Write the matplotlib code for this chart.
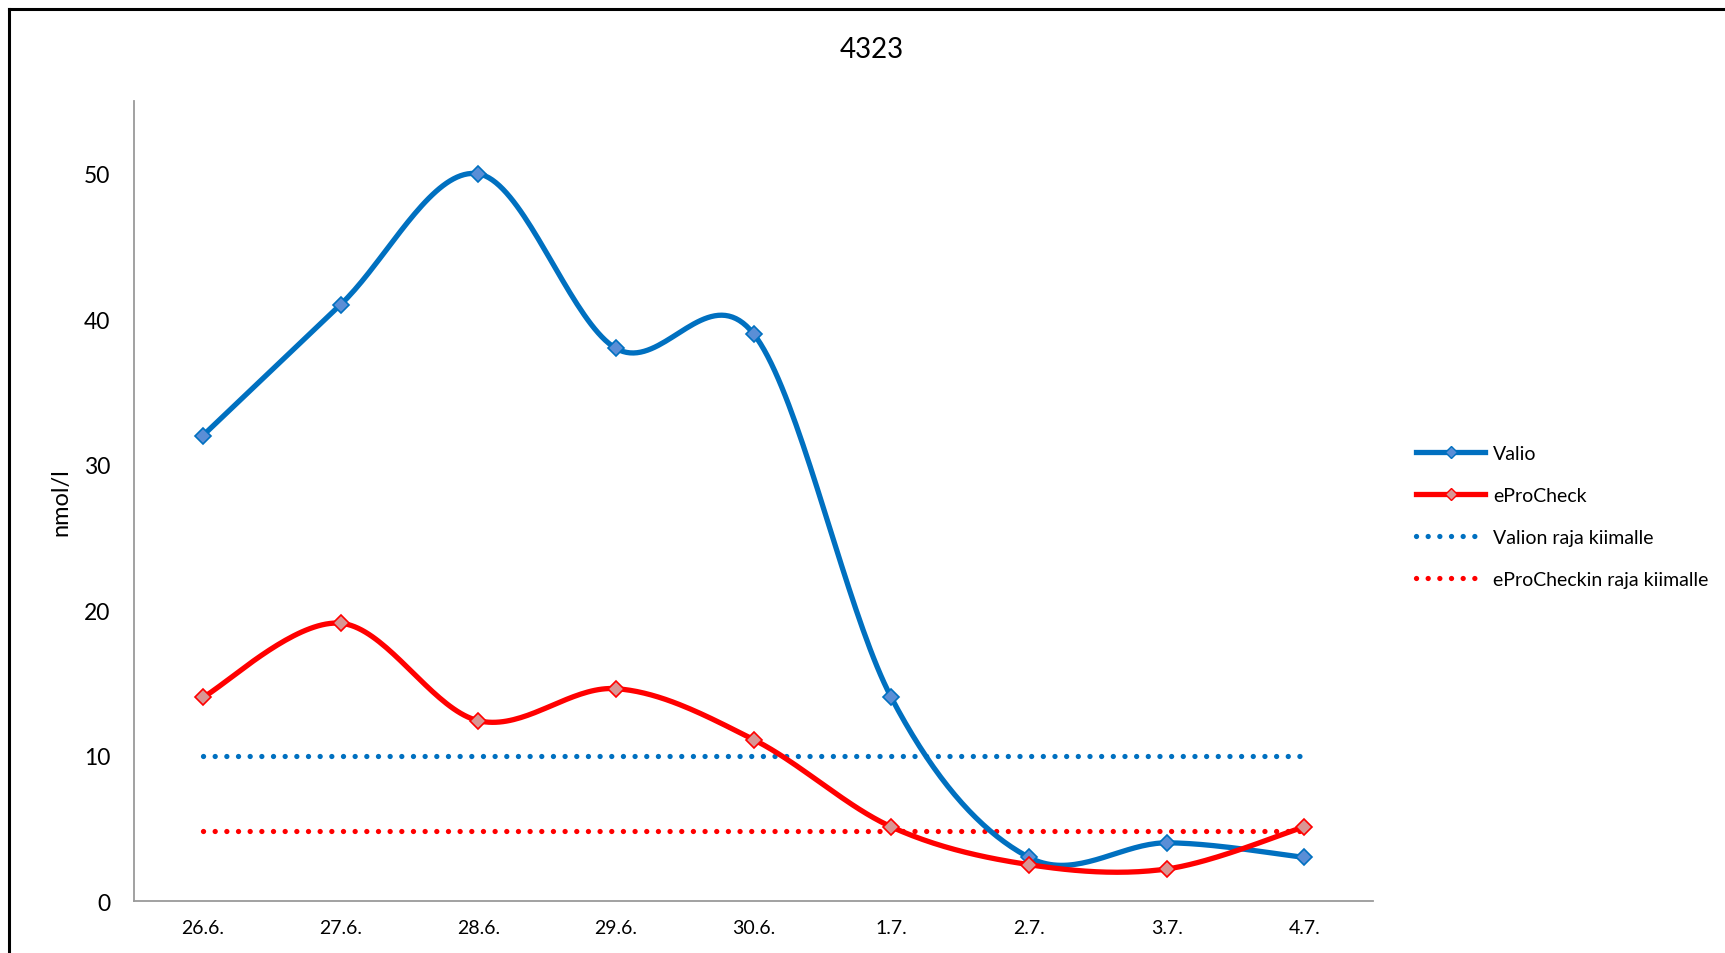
import numpy as np
import matplotlib.pyplot as plt
from matplotlib.lines import Line2D

plt.rcParams['font.family'] = ['Lato', 'DejaVu Sans']

title = '4323'
days = ['26.6.', '27.6.', '28.6.', '29.6.', '30.6.', '1.7.', '2.7.', '3.7.', '4.7.']
valio = [32, 41, 50, 38, 39, 14, 3, 4, 3]
eprocheck = [14, 19.1, 12.4, 14.6, 11.1, 5.1, 2.5, 2.2, 5.1]
valio_limit = 10
eprocheck_limit = 4.8

blue = '#0070C0'
red = '#FF0000'


def smooth(y, steps=40):
    # bezier spline through the points, like a smoothed office chart line
    x = np.arange(len(y), dtype=float)
    y = np.asarray(y, dtype=float)
    pts = np.column_stack([x, y])
    out = []
    for i in range(len(pts) - 1):
        p0 = pts[i - 1] if i > 0 else pts[i]
        p1 = pts[i]
        p2 = pts[i + 1]
        p3 = pts[i + 2] if i + 2 < len(pts) else pts[i + 1]
        c1 = p1 + (p2 - p0) / 6
        c2 = p2 - (p3 - p1) / 6
        t = np.linspace(0, 1, steps)[:, None]
        seg = (1 - t)**3 * p1 + 3 * (1 - t)**2 * t * c1 + 3 * (1 - t) * t**2 * c2 + t**3 * p2
        out.append(seg if i == 0 else seg[1:])
    out = np.vstack(out)
    return out[:, 0], out[:, 1]


fig = plt.figure(figsize=(17.25, 9.54), dpi=100)
ax = fig.add_axes([0.0777, 0.0545, 0.7183, 0.8385])

xs = np.arange(len(days))
lw = 3.8

sx, sy = smooth(valio)
ax.plot(sx, sy, color=blue, lw=lw, solid_capstyle='round', zorder=3)
ax.plot(xs, valio, ls='none', marker='D', ms=8, mfc='#5A8ED6', mec=blue, mew=1.2, zorder=4)

sx, sy = smooth(eprocheck)
ax.plot(sx, sy, color=red, lw=lw, solid_capstyle='round', zorder=3)
ax.plot(xs, eprocheck, ls='none', marker='D', ms=8, mfc='#D99694', mec=red, mew=1.2, zorder=4)

dots = (0, (0.01, 2.2))
ax.plot(xs, [valio_limit] * len(xs), color=blue, lw=lw, ls=dots, dash_capstyle='round', zorder=2)
ax.plot(xs, [eprocheck_limit] * len(xs), color=red, lw=lw, ls=dots, dash_capstyle='round', zorder=2)

ax.set_xlim(-0.5, len(days) - 0.5)
ax.set_ylim(0, 55)
ax.set_xticks(xs)
ax.set_xticklabels(days)
ax.set_yticks([0, 10, 20, 30, 40, 50])
ax.tick_params(axis='x', length=0, pad=13, labelsize=14)
ax.tick_params(axis='y', length=0, pad=17, labelsize=16.5)
ax.set_ylabel('nmol/l', fontsize=17, labelpad=9)

for s in ['top', 'right']:
    ax.spines[s].set_visible(False)
for s in ['left', 'bottom']:
    ax.spines[s].set_color('#9A9A9A')
    ax.spines[s].set_linewidth(1.3)

fig.text(872 / 1725, 1 - 50 / 954, title, fontsize=20, ha='center', va='center')

handles = [
    Line2D([], [], color=blue, lw=lw, marker='D', ms=6, mfc='#5A8ED6', mec=blue),
    Line2D([], [], color=red, lw=lw, marker='D', ms=6, mfc='#D99694', mec=red),
    Line2D([], [], color=blue, lw=lw, ls=dots, dash_capstyle='round'),
    Line2D([], [], color=red, lw=lw, ls=dots, dash_capstyle='round'),
]
labels = ['Valio', 'eProCheck', 'Valion raja kiimalle', 'eProCheckin raja kiimalle']
fig.legend(handles, labels, loc='upper left', bbox_to_anchor=(0.821, 0.533),
           frameon=False, fontsize=14, numpoints=1, handlelength=3.55,
           handletextpad=0.4, labelspacing=1.29, borderpad=0, borderaxespad=0)

# frame around the chart, cut at the right and bottom
fig.add_artist(Line2D([9 / 1725, 1.0], [1 - 9.5 / 954, 1 - 9.5 / 954], color='black', lw=2.2,
                      transform=fig.transFigure))
fig.add_artist(Line2D([9 / 1725, 9 / 1725], [0.0, 1 - 9.5 / 954], color='black', lw=2.2,
                      transform=fig.transFigure))

fig.savefig('out.png', dpi=100)
